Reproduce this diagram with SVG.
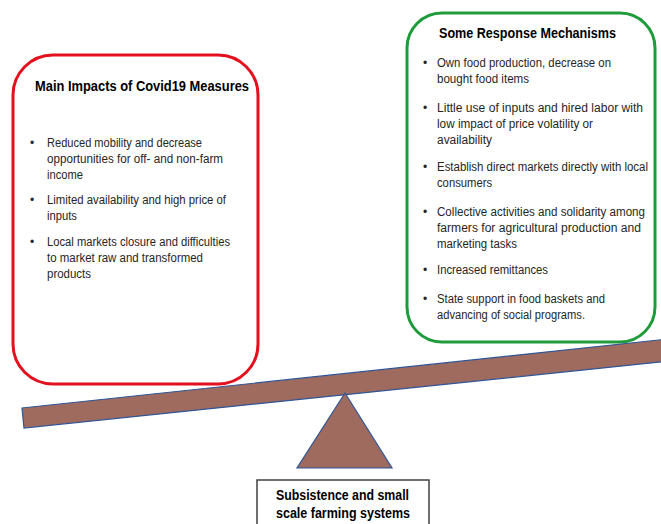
<svg xmlns="http://www.w3.org/2000/svg" width="661" height="524" viewBox="0 0 661 524">
<style>
.t{font-family:"Liberation Sans",Arial,sans-serif;font-size:12px;fill:#262626}
.h{font-family:"Liberation Sans",Arial,sans-serif;font-size:14px;font-weight:bold;fill:#000}
.b{font-family:"Liberation Sans",Arial,sans-serif;font-size:12px;fill:#262626}
.wood{fill:#9E6B5E;stroke:#2F5597;stroke-width:1.2}
</style>
<rect width="661" height="524" fill="#fff"/>
<g id="impacts">
<rect x="13" y="55" width="245" height="329" rx="40" fill="#fff" stroke="#E3101E" stroke-width="3"/>
<text class="h" x="35" y="91" textLength="214" lengthAdjust="spacingAndGlyphs">Main Impacts of Covid19 Measures</text>
<text class="b" x="30" y="147">•</text>
<text class="t" x="47" y="147" textLength="155" lengthAdjust="spacingAndGlyphs">Reduced mobility and decrease</text>
<text class="t" x="47" y="163" textLength="176" lengthAdjust="spacingAndGlyphs">opportunities for off- and non-farm</text>
<text class="t" x="47" y="179" textLength="36" lengthAdjust="spacingAndGlyphs">income</text>
<text class="b" x="30" y="204">•</text>
<text class="t" x="47" y="204" textLength="179" lengthAdjust="spacingAndGlyphs">Limited availability and high price of</text>
<text class="t" x="47" y="220" textLength="30" lengthAdjust="spacingAndGlyphs">inputs</text>
<text class="b" x="30" y="246">•</text>
<text class="t" x="47" y="246" textLength="183" lengthAdjust="spacingAndGlyphs">Local markets closure and difficulties</text>
<text class="t" x="47" y="262" textLength="156" lengthAdjust="spacingAndGlyphs">to market raw and transformed</text>
<text class="t" x="47" y="278" textLength="44" lengthAdjust="spacingAndGlyphs">products</text>
</g>
<g id="responses">
<rect x="407" y="13" width="248" height="329" rx="35" fill="#fff" stroke="#1E9B3A" stroke-width="3"/>
<text class="h" x="439" y="38" textLength="177" lengthAdjust="spacingAndGlyphs">Some Response Mechanisms</text>
<text class="b" x="423" y="67">•</text>
<text class="t" x="437" y="67" textLength="174" lengthAdjust="spacingAndGlyphs">Own food production, decrease on</text>
<text class="t" x="437" y="83" textLength="92" lengthAdjust="spacingAndGlyphs">bought food items</text>
<text class="b" x="423" y="112">•</text>
<text class="t" x="437" y="112" textLength="206" lengthAdjust="spacingAndGlyphs">Little use of inputs and hired labor with</text>
<text class="t" x="437" y="128" textLength="156" lengthAdjust="spacingAndGlyphs">low impact of price volatility or</text>
<text class="t" x="437" y="144" textLength="55" lengthAdjust="spacingAndGlyphs">availability</text>
<text class="b" x="423" y="171">•</text>
<text class="t" x="437" y="171" textLength="211" lengthAdjust="spacingAndGlyphs">Establish direct markets directly with local</text>
<text class="t" x="437" y="187" textLength="55" lengthAdjust="spacingAndGlyphs">consumers</text>
<text class="b" x="423" y="216">•</text>
<text class="t" x="437" y="216" textLength="208" lengthAdjust="spacingAndGlyphs">Collective activities and solidarity among</text>
<text class="t" x="437" y="232" textLength="204" lengthAdjust="spacingAndGlyphs">farmers for agricultural production and</text>
<text class="t" x="437" y="248" textLength="80" lengthAdjust="spacingAndGlyphs">marketing tasks</text>
<text class="b" x="423" y="274">•</text>
<text class="t" x="437" y="274" textLength="111" lengthAdjust="spacingAndGlyphs">Increased remittances</text>
<text class="b" x="423" y="303">•</text>
<text class="t" x="437" y="303" textLength="168" lengthAdjust="spacingAndGlyphs">State support in food baskets and</text>
<text class="t" x="437" y="319" textLength="148" lengthAdjust="spacingAndGlyphs">advancing of social programs.</text>
</g>
<g id="seesaw">
<polygon class="wood" points="22,408 668,339 670,361 24,428"/>
<polygon class="wood" points="345,393 297,468 392,468"/>
</g>
<g id="farming">
<rect x="257" y="480" width="172" height="50" fill="#fff" stroke="#404040" stroke-width="1.5"/>
<text class="h" x="276" y="500" textLength="133" lengthAdjust="spacingAndGlyphs">Subsistence and small</text>
<text class="h" x="276" y="518" textLength="134" lengthAdjust="spacingAndGlyphs">scale farming systems</text>
</g>
<g id="connectors"/>
</svg>
